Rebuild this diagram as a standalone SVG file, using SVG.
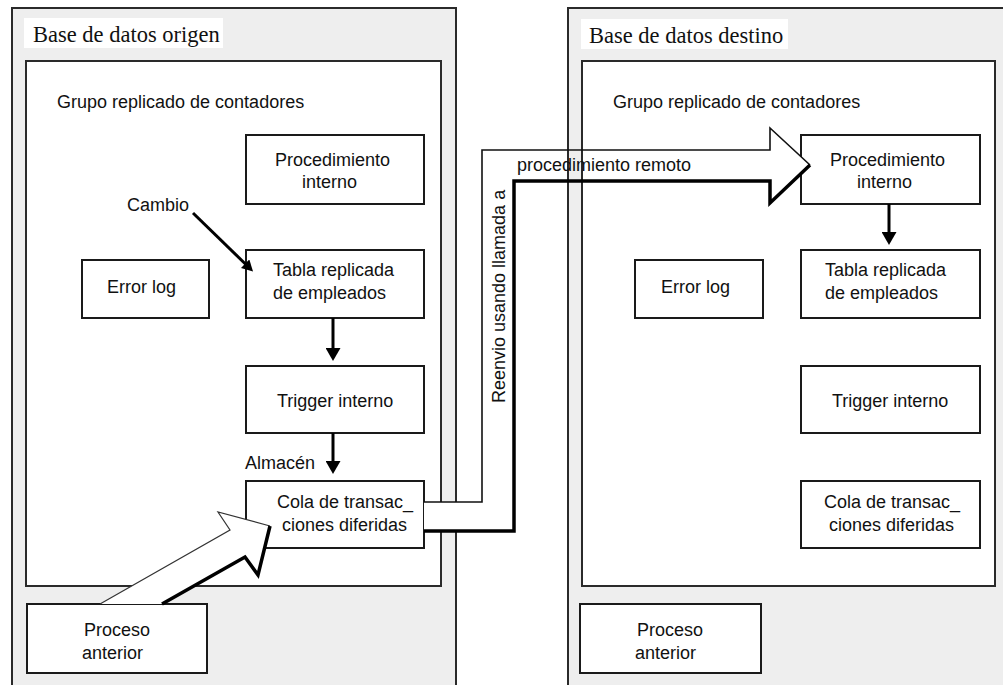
<svg xmlns="http://www.w3.org/2000/svg" width="1003" height="685" viewBox="0 0 1003 685">
  <defs>
    <style>
      .panel { fill: #eeeeee; stroke: #2a2a2a; stroke-width: 2; }
      .inner { fill: #ffffff; stroke: #2a2a2a; stroke-width: 2; }
      .box { fill: #ffffff; stroke: #1a1a1a; stroke-width: 2; }
      .tbg { fill: #ffffff; }
      .lbl { font-family: "Liberation Sans", Arial, sans-serif; font-size: 18px; fill: #111111; }
      .ttl { font-family: "Liberation Serif", "Times New Roman", serif; font-size: 22.5px; fill: #111111; }
      .flow { stroke: #000000; stroke-width: 3; fill: none; }
      .thin { stroke: #111111; stroke-width: 1.6; fill: none; stroke-linejoin: miter; }
      .thin-light { stroke: #333333; stroke-width: 1.2; fill: none; stroke-linejoin: miter; }
      .thick { stroke: #000000; stroke-width: 3.5; fill: none; stroke-linejoin: miter; }
      .fat { fill: #ffffff; stroke: none; }
    </style>
    <marker id="head" viewBox="0 0 13 15" refX="5" refY="7.5" markerWidth="13" markerHeight="15" markerUnits="userSpaceOnUse" orient="auto">
      <path d="M0,0 L13,7.5 L0,15 z" fill="#000000"/>
    </marker>
    <marker id="headSmall" viewBox="0 0 11 12" refX="4" refY="6" markerWidth="11" markerHeight="12" markerUnits="userSpaceOnUse" orient="auto">
      <path d="M0,0 L11,6 L0,12 z" fill="#000000"/>
    </marker>
  </defs>

  <rect width="1003" height="685" fill="#ffffff"/>

  <!-- source database panel -->
  <g id="origen">
    <rect class="panel" x="12" y="8" width="444" height="700"/>
    <rect class="tbg" x="24" y="18" width="199" height="30"/>
    <text class="ttl" x="33" y="42">Base de datos origen</text>
    <rect class="inner" x="26" y="61" width="415" height="525"/>
    <text class="lbl" x="57" y="108">Grupo replicado de contadores</text>
  </g>

  <!-- target database panel -->
  <g id="destino">
    <rect class="panel" x="568" y="8" width="450" height="700"/>
    <rect class="tbg" x="581" y="19" width="207" height="30"/>
    <text class="ttl" x="589" y="43">Base de datos destino</text>
    <rect class="inner" x="582" y="61" width="413" height="525"/>
    <text class="lbl" x="613" y="108">Grupo replicado de contadores</text>
  </g>

  <!-- source nodes -->
  <g id="o-procedimiento">
    <rect class="box" x="246" y="135" width="178" height="69"/>
    <text class="lbl" x="275" y="166">Procedimiento</text>
    <text class="lbl" x="302" y="188">interno</text>
  </g>
  <g id="o-tabla">
    <rect class="box" x="246" y="250" width="178" height="68"/>
    <text class="lbl" x="273" y="276">Tabla replicada</text>
    <text class="lbl" x="273" y="299">de empleados</text>
  </g>
  <g id="o-errorlog">
    <rect class="box" x="82" y="260" width="127" height="58"/>
    <text class="lbl" x="107" y="293">Error log</text>
  </g>
  <g id="o-trigger">
    <rect class="box" x="246" y="366" width="178" height="67"/>
    <text class="lbl" x="277" y="407">Trigger interno</text>
  </g>
  <g id="o-cola">
    <rect class="box" x="246" y="481" width="178" height="67"/>
    <text class="lbl" x="277" y="508">Cola de transac_</text>
    <text class="lbl" x="282" y="531">ciones diferidas</text>
  </g>
  <g id="o-proceso">
    <rect class="box" x="27" y="604" width="180" height="69"/>
    <text class="lbl" x="84" y="636">Proceso</text>
    <text class="lbl" x="82" y="659">anterior</text>
  </g>
  <g id="o-labels">
    <text class="lbl" x="127" y="211">Cambio</text>
    <text class="lbl" x="245" y="469">Almacén</text>
  </g>

  <!-- target nodes -->
  <g id="d-procedimiento">
    <rect class="box" x="801" y="135" width="179" height="69"/>
    <text class="lbl" x="830" y="166">Procedimiento</text>
    <text class="lbl" x="857" y="188">interno</text>
  </g>
  <g id="d-tabla">
    <rect class="box" x="801" y="250" width="179" height="68"/>
    <text class="lbl" x="825" y="276">Tabla replicada</text>
    <text class="lbl" x="825" y="299">de empleados</text>
  </g>
  <g id="d-errorlog">
    <rect class="box" x="635" y="260" width="128" height="58"/>
    <text class="lbl" x="661" y="293">Error log</text>
  </g>
  <g id="d-trigger">
    <rect class="box" x="801" y="366" width="179" height="67"/>
    <text class="lbl" x="832" y="407">Trigger interno</text>
  </g>
  <g id="d-cola">
    <rect class="box" x="801" y="481" width="179" height="67"/>
    <text class="lbl" x="824" y="508">Cola de transac_</text>
    <text class="lbl" x="829" y="531">ciones diferidas</text>
  </g>
  <g id="d-proceso">
    <rect class="box" x="580" y="604" width="181" height="69"/>
    <text class="lbl" x="637" y="636">Proceso</text>
    <text class="lbl" x="635" y="659">anterior</text>
  </g>

  <!-- connectors -->
  <g id="connectors">
    <line class="flow" x1="193" y1="213" x2="248" y2="266.5" stroke-width="4" marker-end="url(#headSmall)"/>
    <line class="flow" x1="333" y1="318" x2="333" y2="353" marker-end="url(#head)"/>
    <line class="flow" x1="333" y1="433" x2="333" y2="466" marker-end="url(#head)"/>
    <line class="flow" x1="889" y1="204" x2="889" y2="237" marker-end="url(#head)"/>

    <!-- hollow arrow: previous process into the deferred queue -->
    <g id="fat-entrada">
      <polygon class="fat" points="100,604 230,530 218,512 270,526 258,575 245,557 162,604"/>
      <polyline class="thin-light" points="100,604 230,530 218,512 270,526"/>
      <polyline class="thick" points="270,526 258,575 245,557 162,604"/>
    </g>

    <!-- hollow arrow: forwarding through remote procedure call -->
    <g id="fat-reenvio">
      <polygon class="fat" points="424,502 482,502 482,150 770,150 770,128 810,165 770,203 770,181 514,181 514,531 424,531"/>
      <!-- target panel border stays visible through the shaft -->
      <rect x="568" y="151" width="14" height="29" fill="#eeeeee"/>
      <line x1="568" y1="150" x2="568" y2="181" stroke="#2a2a2a" stroke-width="2"/>
      <line x1="582" y1="150" x2="582" y2="181" stroke="#2a2a2a" stroke-width="2"/>
      <polyline class="thin" points="424,502 482,502 482,150 770,150 770,128 810,165"/>
      <polyline class="thick" points="810,165 770,203 770,181 514,181 514,531 424,531"/>
      <text class="lbl" x="517" y="171">procedimiento remoto</text>
      <text class="lbl" transform="translate(505,403) rotate(-90)">Reenvio usando llamada a</text>
    </g>
  </g>
</svg>
